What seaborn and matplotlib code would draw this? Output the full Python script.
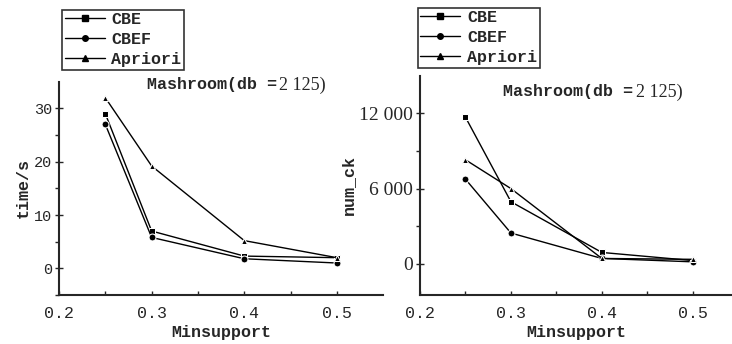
import pandas as pd
import matplotlib.pyplot as plt
import seaborn as sns

# data
minsupport = [0.25, 0.3, 0.4, 0.5]
series = ["CBE", "CBEF", "Apriori"]
time_cbe = [29, 7.0, 2.3, 2.0]
time_cbef = [27, 5.8, 1.8, 1.0]
time_apriori = [32, 19.2, 5.2, 2.0]
numck_cbe = [11700, 4950, 900, 250]
numck_cbef = [6750, 2450, 420, 150]
numck_apriori = [8300, 6000, 420, 350]
markers = {"CBE": "s", "CBEF": "o", "Apriori": "^"}

df_time = pd.DataFrame({
    "Minsupport": minsupport * 3,
    "value": time_cbe + time_cbef + time_apriori,
    "algo": [s for s in series for _ in minsupport],
})
df_ck = pd.DataFrame({
    "Minsupport": minsupport * 3,
    "value": numck_cbe + numck_cbef + numck_apriori,
    "algo": [s for s in series for _ in minsupport],
})

sns.set_style("ticks")
mono = "Liberation Mono"
serif = "Liberation Serif"

fig = plt.figure(figsize=(7.32, 3.44), dpi=100)
ax1 = fig.add_axes([0.0806, 0.1424, 0.443, 0.62])
ax2 = fig.add_axes([0.5738, 0.1424, 0.426, 0.637])


def draw(ax, df, xmax, ylim, yticks, ylabels, minor, yfont, title_xy, leg_anchor):
    sns.lineplot(data=df, x="Minsupport", y="value", hue="algo", style="algo",
                 markers=markers, dashes=False, palette=["black"] * 3,
                 markersize=5, linewidth=1.0, ax=ax, legend=False)
    ax.set_xlim(0.2, xmax)
    ax.set_ylim(*ylim)
    ax.set_xticks([0.2, 0.3, 0.4, 0.5])
    ax.set_xticklabels(["0.2", "0.3", "0.4", "0.5"], family=mono, fontsize=12)
    ax.set_xticks([0.25, 0.35, 0.45], minor=True)
    ax.set_yticks(yticks)
    ax.set_yticklabels(ylabels, **yfont)
    ax.set_yticks(minor, minor=True)
    ax.tick_params(axis="x", which="both", direction="in", length=3, width=1, pad=8)
    ax.tick_params(axis="y", which="major", direction="inout", length=6, width=1, pad=2)
    ax.tick_params(axis="y", which="minor", direction="out", length=3, width=1)
    for side in ["top", "right"]:
        ax.spines[side].set_visible(False)
    for side in ["left", "bottom"]:
        ax.spines[side].set_linewidth(1.5)
    ax.set_xlabel("Minsupport", family=mono, fontweight="bold", fontsize=12, labelpad=3)
    t = ax.text(title_xy[0], title_xy[1], "Mashroom(db =", transform=ax.transAxes,
                family=mono, fontweight="bold", fontsize=12, ha="left", va="center")
    ax.annotate("2 125)", xy=(1, 0.5), xycoords=t, xytext=(2, 0),
                textcoords="offset points", family=serif, fontsize=13,
                ha="left", va="center")
    handles = [plt.Line2D([], [], color="black", marker=markers[s], markersize=4,
                          linewidth=1.0) for s in series]
    leg = ax.legend(handles, series, loc="lower left", bbox_to_anchor=leg_anchor,
                    prop={"family": mono, "weight": "bold", "size": 12},
                    frameon=True, fancybox=False, edgecolor="black",
                    borderpad=0.15, labelspacing=0.3, handlelength=2.4,
                    handletextpad=0.4, borderaxespad=0.0)
    leg.get_frame().set_linewidth(1.2)


draw(ax1, df_time, 0.55, (-5, 35), [0, 10, 20, 30], ["0", "10", "20", "30"],
     [-5, 5, 15, 25], {"family": mono, "fontsize": 11}, (0.27, 0.985),
     (0.01, 1.056))
ax1.set_ylabel("time/s", family=mono, fontweight="bold", fontsize=12, labelpad=2)

draw(ax2, df_ck, 0.543, (-2500, 15000), [0, 6000, 12000], ["0", "6 000", "12 000"],
     [3000, 9000], {"family": serif, "fontsize": 14}, (0.266, 0.927),
     (-0.007, 1.037))
ax2.set_ylabel("num_ck", family=mono, fontweight="bold", fontsize=12)
ax2.yaxis.set_label_coords(-0.205, 0.5)

fig.savefig("out.png", dpi=100)
